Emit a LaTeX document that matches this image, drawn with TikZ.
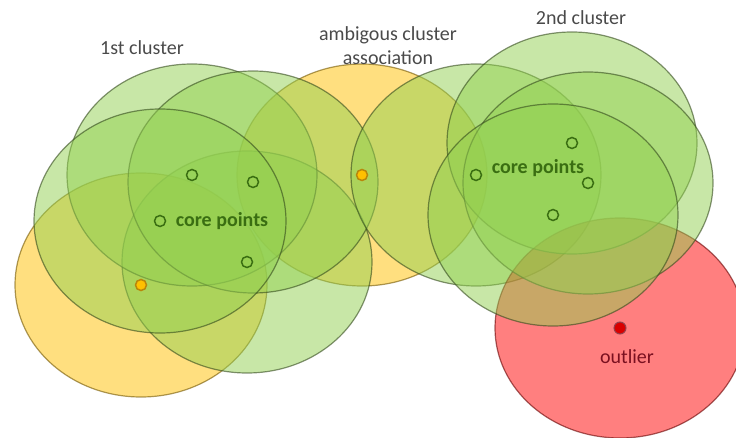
\documentclass[tikz,border=0pt]{standalone}
\usepackage{fontspec}
\setmainfont{Carlito}
\usepackage{tikz}
\usetikzlibrary{positioning}

\definecolor{epsgreen}{HTML}{92D050}
\definecolor{epsyellow}{HTML}{FFC000}
\definecolor{epsred}{HTML}{FF0000}
\definecolor{coregreen}{HTML}{3A6E12}
\definecolor{bordergold}{HTML}{B8860B}
\definecolor{labelgray}{HTML}{4A4A4A}
\definecolor{outlierred}{HTML}{7A1020}

\begin{document}
\begin{tikzpicture}[x=1pt,y=-1pt,
  eps/.style={draw opacity=0.6,line width=1.2pt,fill opacity=0.5},
  epsg/.style={eps,draw=epsgreen!35!black,fill=epsgreen},
  epsy/.style={eps,draw=epsyellow!45!black,fill=epsyellow},
  epsr/.style={eps,draw=epsred!40!black,fill=epsred},
  corept/.style={circle,draw=coregreen,line width=1.5pt,inner sep=0pt,minimum size=11pt},
  borderpt/.style={circle,draw=bordergold,fill=epsyellow,line width=1.5pt,inner sep=0pt,minimum size=11pt},
  noisept/.style={circle,draw=outlierred!80,fill=epsred!85!black,line width=1pt,inner sep=0pt,minimum size=12pt},
  lbl/.style={font=\fontsize{20}{24}\selectfont,text=labelgray,align=center}]
\useasboundingbox (0,0) rectangle (736,438);
\clip (0,0) rectangle (736,438);

% point positions
\coordinate (c1a) at (192,175);
\coordinate (c1b) at (253,182);
\coordinate (c1c) at (160,221);
\coordinate (c1d) at (247,262);
\coordinate (b1) at (141,285);
\coordinate (amb) at (362,175);
\coordinate (c2a) at (572,143);
\coordinate (c2b) at (476,175);
\coordinate (c2c) at (588,183);
\coordinate (c2d) at (553,215);
\coordinate (noise) at (620,328);

% eps neighbourhoods
\path[epsy] (b1) ellipse [x radius=126, y radius=112];
\path[epsy] (amb) ellipse [x radius=125, y radius=111];
\path[epsg] (c1d) ellipse [x radius=125, y radius=111];
\path[epsg] (c1a) ellipse [x radius=125, y radius=111];
\path[epsg] (c1b) ellipse [x radius=125, y radius=111];
\path[epsg] (c1c) ellipse [x radius=126, y radius=112];

\path[epsg] (c2b) ellipse [x radius=125, y radius=111];
\path[epsr] (noise) ellipse [x radius=125, y radius=110];
\path[epsg] (c2a) ellipse [x radius=125, y radius=111];
\path[epsg] (c2c) ellipse [x radius=125, y radius=111];
\path[epsg] (c2d) ellipse [x radius=125, y radius=111];

% points
\node[corept] (p1a) at (c1a) {};
\node[corept] (p1b) at (c1b) {};
\node[corept] (p1c) at (c1c) {};
\node[corept] (p1d) at (c1d) {};
\node[borderpt] (pb1) at (b1) {};
\node[borderpt] (pamb) at (amb) {};
\node[corept] (p2a) at (c2a) {};
\node[corept] (p2b) at (c2b) {};
\node[corept] (p2c) at (c2c) {};
\node[corept] (p2d) at (c2d) {};
\node[noisept] (pnoise) at (noise) {};

% labels
\node[lbl] (first) at (142,48) {1st cluster};
\node[lbl] (ambig) at (388,46) {ambigous cluster\\association};
\node[lbl] (second) at (581,18) {2nd cluster};
\node[lbl,text=coregreen,font=\fontsize{20}{24}\selectfont\bfseries] (core1) at (222,221) {core points};
\node[lbl,text=coregreen,font=\fontsize{20}{24}\selectfont\bfseries] (core2) at (538,168) {core points};
\node[lbl,text=outlierred] (outl) at (627,357) {outlier};
\end{tikzpicture}
\end{document}
